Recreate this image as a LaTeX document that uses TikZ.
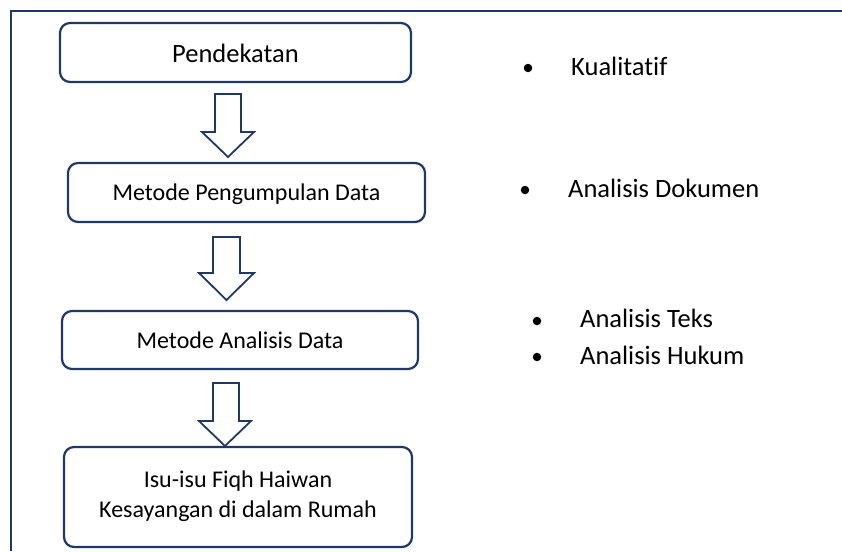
\documentclass[tikz,border=0pt]{standalone}
\usepackage{fontspec}
\setmainfont[Ligatures=NoCommon]{Carlito}
\definecolor{navy}{RGB}{31,56,100}
\begin{document}
\begin{tikzpicture}[x=1pt,y=-1pt,
  boxshape/.style={draw=navy,line width=2.2pt,rounded corners=10pt,fill=white},
  blockarrow/.style={draw=navy,line width=1.8pt,fill=white,line join=miter},
  frameline/.style={draw=navy,line width=2.2pt},
  bigtxt/.style={font=\fontsize{26.5}{32}\selectfont,inner sep=0pt,text=black},
  smalltxt/.style={font=\fontsize{24}{30}\selectfont,inner sep=0pt,text=black,align=center},
  bul/.style={circle,fill=black,inner sep=0pt,minimum size=8.5pt}]
\useasboundingbox (0,0) rectangle (842,551);
% frame
\draw[frameline] (11,551) -- (11,11) -- (842,11);
% boxes
\draw[boxshape] (60,23) rectangle (411,82);
\draw[boxshape] (68,163) rectangle (425,222);
\draw[boxshape] (62,311) rectangle (418,369);
\draw[boxshape] (64,447) rectangle (412,547);
% box texts
\node[bigtxt,anchor=base] (t1) at (235.5,63) {Pendekatan};
\node[smalltxt,anchor=base] (t2) at (246.5,200) {Metode Pengumpulan Data};
\node[smalltxt,anchor=base] (t3) at (240,348) {Metode Analisis Data};
\node[smalltxt,anchor=base] (t4a) at (238,487) {Isu-isu Fiqh Haiwan};
\node[smalltxt,anchor=base] (t4b) at (238,517) {Kesayangan di dalam Rumah};
% block arrows
\draw[blockarrow] (215,94) -- (241,94) -- (241,132) -- (254,132) -- (228,157) -- (202,132) -- (215,132) -- cycle;
\draw[blockarrow] (213,237) -- (240,237) -- (240,273) -- (254,273) -- (226.5,300) -- (199,273) -- (213,273) -- cycle;
\draw[blockarrow] (213,383) -- (239,383) -- (239,421) -- (251,421) -- (225,446) -- (199,421) -- (213,421) -- cycle;
% bullets
\node[bul] (b1) at (528,68) {};
\node[bigtxt,anchor=base west] (r1) at (571,75) {Kualitatif};
\node[bul] (b2) at (525,190) {};
\node[bigtxt,anchor=base west] (r2) at (568,197) {Analisis Dokumen};
\node[bul] (b3) at (537,321) {};
\node[bigtxt,anchor=base west] (r3) at (580,327) {Analisis Teks};
\node[bul] (b4) at (537,357) {};
\node[bigtxt,anchor=base west] (r4) at (580,364) {Analisis Hukum};
\end{tikzpicture}
\end{document}
